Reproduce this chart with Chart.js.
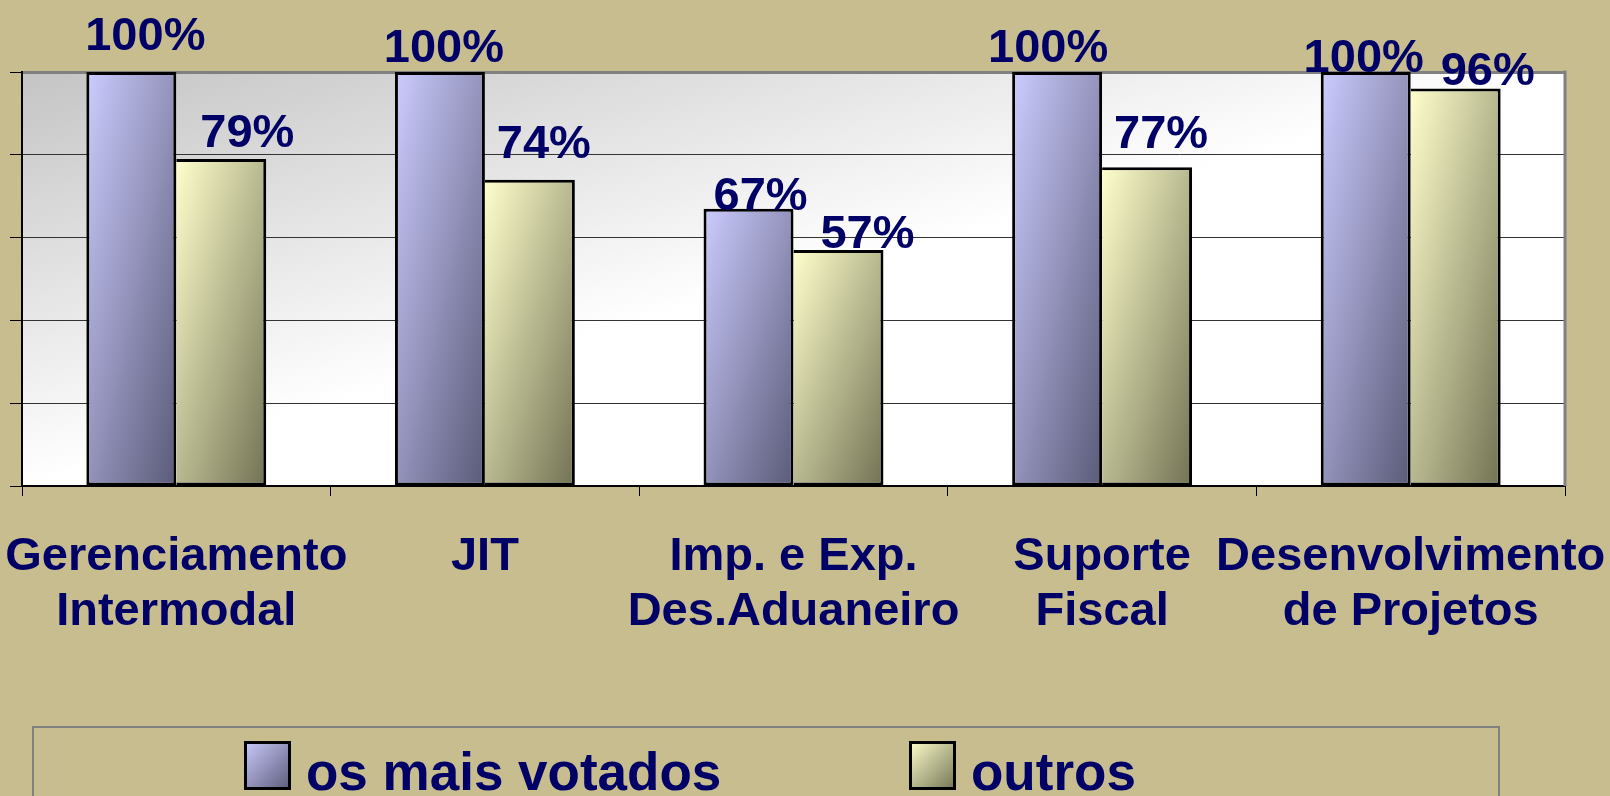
<!DOCTYPE html>
<html>
<head>
<meta charset="utf-8">
<script src="https://cdn.jsdelivr.net/npm/chart.js@4"></script>
<style>
html,body{margin:0;padding:0;background:#C7BD8F;overflow:hidden;}
#wrap{width:1610px;height:796px;}
</style>
</head>
<body>
<div id="wrap"><canvas id="c" width="1610" height="796"></canvas></div>
<script>
// ---- data ----
const categories = [
  ['Gerenciamento', 'Intermodal'],
  ['JIT'],
  ['Imp. e Exp.', 'Des.Aduaneiro'],
  ['Suporte', 'Fiscal'],
  ['Desenvolvimento', 'de Projetos']
];
const seriesNames = ['os mais votados', 'outros'];
const maisVotados = [100, 100, 67, 100, 100];
const outros = [79, 74, 57, 77, 96];
const yTickValues = [0, 20, 40, 60, 80, 100];

// ---- styles ----
const NAVY = '#000066';
const FONT = "'Liberation Sans', Arial, Helvetica, sans-serif";
const CAT_PCT = 0.583;
const gradColors = [['#ccccff', '#5a5a78'], ['#ffffcc', '#727254']];
// label nudges relative to bar top-centre (manual placement in the original)
const labelNudgeX = [[14, 4, 12, -9, -2], [26, 14, 29, 14, 32]];
const labelNudgeY = [[-22, -10, 1, -10, 0], [-12, -22, -2, -19, -4]];
const legendStyle = { left: 33, top: 727, right: 1499, bottom: 840, itemX: [244, 909], swTop: 741, swW: 47, swH: 49, gap: 15, baseline: 790, size: 53 };

function diagGradient(g, left, top, w, h, stops) {
  const k = 2 * w * h / (w * w + h * h);
  const gr = g.createLinearGradient(left, top, left + k * h, top + k * w);
  stops.forEach(s => gr.addColorStop(s[0], s[1]));
  return gr;
}

function barFill(c, i) {
  const chart = c.chart;
  if (c.type !== 'data' || !chart.chartArea || !chart.scales.x) return gradColors[i][0];
  const xs = chart.scales.x, ys = chart.scales.y;
  const n = chart.data.labels.length;
  const catW = xs.width / n;
  const groupW = catW * CAT_PCT;
  const barW = groupW / 2;
  const center = xs.getPixelForValue(c.dataIndex);
  const left = center - groupW / 2 + i * barW;
  const v = chart.data.datasets[i].data[c.dataIndex];
  const top = ys.getPixelForValue(v), bottom = ys.getPixelForValue(0);
  return diagGradient(chart.ctx, left, top, barW, Math.max(1, bottom - top),
    [[0, gradColors[i][0]], [1, gradColors[i][1]]]);
}

const plotBg = {
  id: 'plotBg',
  beforeDraw(chart) {
    const a = chart.chartArea, g = chart.ctx;
    g.save();
    g.fillStyle = diagGradient(g, a.left, a.top, a.right - a.left, a.bottom - a.top,
      [[0, '#c4c4c4'], [0.5, '#ffffff'], [1, '#ffffff']]);
    g.fillRect(a.left, a.top, a.right - a.left, a.bottom - a.top);
    g.restore();
  },
  beforeDatasetsDraw(chart) {
    const a = chart.chartArea, g = chart.ctx;
    g.save();
    g.strokeStyle = '#808080';
    g.lineWidth = 3;
    g.beginPath();
    g.moveTo(a.right, a.top - 1.5);
    g.lineTo(a.right, a.bottom);
    g.stroke();
    g.restore();
  }
};

const valueLabels = {
  id: 'valueLabels',
  afterDatasetsDraw(chart) {
    const g = chart.ctx;
    g.save();
    g.font = 'bold 47px ' + FONT;
    g.fillStyle = NAVY;
    g.textAlign = 'center';
    g.textBaseline = 'alphabetic';
    chart.data.datasets.forEach((ds, i) => {
      const meta = chart.getDatasetMeta(i);
      meta.data.forEach((el, j) => {
        g.fillText(ds.data[j] + '%', el.x + labelNudgeX[i][j], el.y + labelNudgeY[i][j]);
      });
    });
    g.restore();
  }
};

const boxLegend = {
  id: 'boxLegend',
  afterDraw(chart) {
    const g = chart.ctx, L = legendStyle;
    g.save();
    g.strokeStyle = '#808080';
    g.lineWidth = 2;
    g.strokeRect(L.left, L.top, L.right - L.left, L.bottom - L.top);
    chart.data.datasets.forEach((ds, i) => {
      const x = L.itemX[i];
      g.fillStyle = diagGradient(g, x, L.swTop, L.swW, L.swH, [[0, gradColors[i][0]], [1, gradColors[i][1]]]);
      g.fillRect(x, L.swTop, L.swW, L.swH);
      g.strokeStyle = '#000';
      g.lineWidth = 3;
      g.strokeRect(x + 1.5, L.swTop + 1.5, L.swW - 3, L.swH - 3);
      g.fillStyle = NAVY;
      g.font = 'bold ' + L.size + 'px ' + FONT;
      g.textAlign = 'left';
      g.textBaseline = 'alphabetic';
      g.fillText(ds.label, x + L.swW + L.gap, L.baseline);
    });
    g.restore();
  }
};

new Chart(document.getElementById('c'), {
  type: 'bar',
  data: {
    labels: categories,
    datasets: [
      {
        label: seriesNames[0],
        data: maisVotados,
        backgroundColor: c => barFill(c, 0),
        borderColor: '#000',
        borderWidth: 3,
        borderSkipped: false
      },
      {
        label: seriesNames[1],
        data: outros,
        backgroundColor: c => barFill(c, 1),
        borderColor: '#000',
        borderWidth: 3,
        borderSkipped: 'left'
      }
    ]
  },
  options: {
    responsive: false,
    animation: false,
    devicePixelRatio: 1,
    datasets: { bar: { barPercentage: 1, categoryPercentage: CAT_PCT } },
    layout: { padding: { left: 10, top: 72, right: 45, bottom: 122 } },
    plugins: { legend: { display: false }, tooltip: { enabled: false } },
    scales: {
      x: {
        afterFit: s => { s.paddingLeft = 0; s.paddingRight = 0; },
        grid: { display: true, drawOnChartArea: false, drawTicks: true, tickLength: 10, color: '#000', lineWidth: 1 },
        border: { display: true, color: '#000', width: 2 },
        ticks: {
          color: NAVY,
          font: { family: FONT, size: 47, weight: 'bold', lineHeight: 1.17 },
          padding: 34,
          maxRotation: 0,
          minRotation: 0,
          autoSkip: false
        }
      },
      y: {
        min: 0,
        max: 100,
        afterBuildTicks: s => { s.ticks = yTickValues.map(v => ({ value: v })); },
        grid: {
          color: c => (c.tick && c.tick.value === 100) ? '#808080' : '#333',
          lineWidth: c => (c.tick && c.tick.value === 100) ? 3 : 1,
          tickColor: '#000',
          tickWidth: 1,
          tickLength: 12,
          drawTicks: true
        },
        border: { display: true, color: '#000', width: 2 },
        ticks: { display: false }
      }
    }
  },
  plugins: [plotBg, valueLabels, boxLegend]
});
</script>
</body>
</html>
